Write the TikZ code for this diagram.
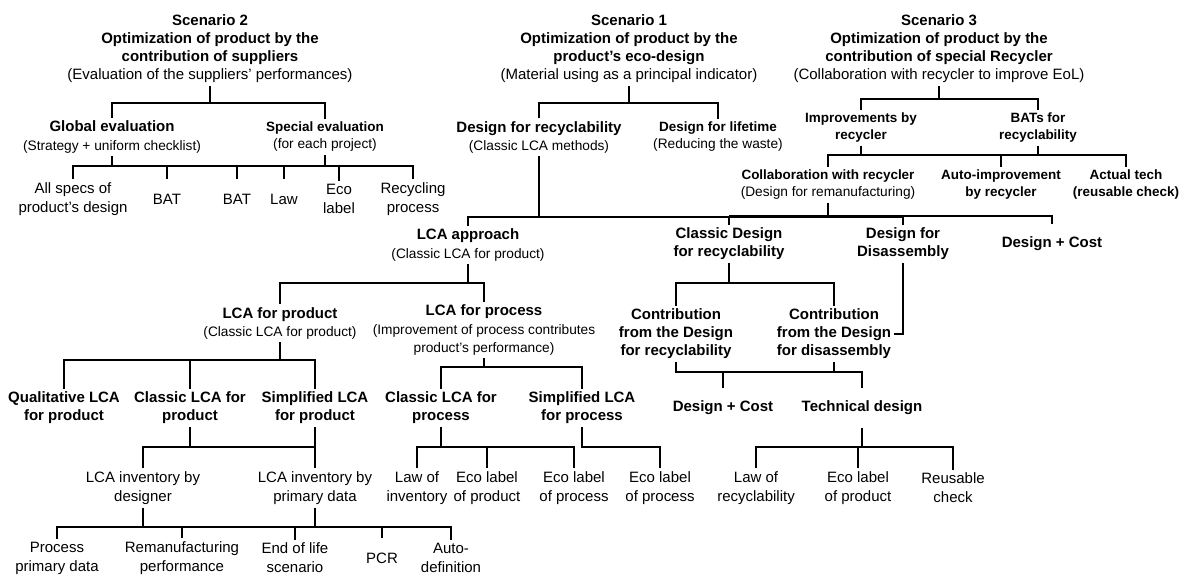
\documentclass[tikz,border=0pt]{standalone}
\usepackage{fontspec}
\setmainfont{Liberation Sans}
\usepackage{tikz}
\newcommand{\subline}[1]{{\mdseries\fontsize{11.7}{15.4}\selectfont #1}}
\tikzstyle{title} = [align=center, font=\bfseries\fontsize{12.8}{15.4}\selectfont, inner sep=2.5pt]
\tikzstyle{stitle} = [align=center, font=\bfseries\fontsize{11.5}{14.5}\selectfont, inner sep=2.5pt]
\tikzstyle{leaf} = [align=center, font=\fontsize{12.8}{16.2}\selectfont, inner sep=2.5pt]
\tikzstyle{oneline} = [minimum height=1.17cm]
\tikzstyle{link} = [line width=1.6pt, black]

\begin{document}
\begin{tikzpicture}[x=0.03cm, y=-0.03cm]
    \useasboundingbox (0,0) rectangle (1186,576);

    % scenarios
    \node[title] (sc2) at (210,49) {Scenario 2\\Optimization of product by the\\contribution of suppliers\\{\mdseries (Evaluation of the suppliers' performances)}};
    \node[title] (sc1) at (629,49) {Scenario 1\\Optimization of product by the\\product's eco-design\\{\mdseries (Material using as a principal indicator)}};
    \node[title] (sc3) at (939,49) {Scenario 3\\Optimization of product by the\\contribution of special Recycler\\{\mdseries (Collaboration with recycler to improve EoL)}};

    % scenario 2
    \node[title] (glob) at (112,137) {Global evaluation\\\subline{(Strategy + uniform checklist)}};
    \node[stitle] (spec) at (325,137) {Special evaluation\\\subline{(for each project)}};
    \node[leaf] (allspec) at (73,199) {All specs of\\product's design};
    \node[leaf, oneline] (bat1) at (167,199) {BAT};
    \node[leaf, oneline] (bat2) at (237,199) {BAT};
    \node[leaf, oneline] (law) at (284,199) {Law};
    \node[leaf] (eco) at (339,199) {Eco\\label};
    \node[leaf] (recproc) at (413,199) {Recycling\\process};

    % scenario 1
    \node[title] (dfr) at (539,137) {Design for recyclability\\\subline{(Classic LCA methods)}};
    \node[stitle] (dflife) at (718,137) {Design for lifetime\\\subline{(Reducing the waste)}};

    % scenario 3
    \node[stitle] (impr) at (861,128) {Improvements by\\recycler};
    \node[stitle] (bats) at (1038,128) {BATs for\\recyclability};
    \node[stitle] (collab) at (828,185) {Collaboration with recycler\\\subline{(Design for remanufacturing)}};
    \node[stitle] (autoimp) at (1001,185) {Auto-improvement\\by recycler};
    \node[stitle] (acttech) at (1126,185) {Actual tech\\(reusable check)};

    \node[title] (lca) at (468,245) {LCA approach\\\subline{(Classic LCA for product)}};
    \node[title] (cldfr) at (729,244) {Classic Design\\for recyclability};
    \node[title] (dfd) at (903,244) {Design for\\Disassembly};
    \node[title, oneline] (dcost1) at (1052,244) {Design + Cost};

    \node[title] (lcaprod) at (280,323) {LCA for product\\\subline{(Classic LCA for product)}};
    \node[title] (lcaproc) at (484,330) {LCA for process\\\subline{(Improvement of process contributes}\\\subline{product's performance)}};
    \node[title] (contrrec) at (676,334) {Contribution\\from the Design\\for recyclability};
    \node[title] (contrdis) at (834,334) {Contribution\\from the Design\\for disassembly};

    \node[title] (qual) at (64,408) {Qualitative LCA\\for product};
    \node[title] (clprod) at (190,408) {Classic LCA for\\product};
    \node[title] (simprod) at (315,408) {Simplified LCA\\for product};
    \node[title] (clproc) at (441,408) {Classic LCA for\\process};
    \node[title] (simproc) at (582,408) {Simplified LCA\\for process};
    \node[title, oneline] (dcost2) at (723,408) {Design + Cost};
    \node[title, oneline] (techd) at (862,408) {Technical design};

    \node[leaf] (invdes) at (143,488) {LCA inventory by\\designer};
    \node[leaf] (invprim) at (315,488) {LCA inventory by\\primary data};
    \node[leaf] (lawinv) at (417,488) {Law of\\inventory};
    \node[leaf] (ecoprod1) at (487,488) {Eco label\\of product};
    \node[leaf] (ecoproc1) at (574,488) {Eco label\\of process};
    \node[leaf] (ecoproc2) at (660,488) {Eco label\\of process};
    \node[leaf] (lawrec) at (756,488) {Law of\\recyclability};
    \node[leaf] (ecoprod2) at (858,488) {Eco label\\of product};
    \node[leaf] (reuse) at (953,488) {Reusable\\check};

    \node[leaf] (procdata) at (57,558) {Process\\primary data};
    \node[leaf] (reman) at (182,558) {Remanufacturing\\performance};
    \node[leaf] (eol) at (295,558) {End of life\\scenario};
    \node[leaf, oneline] (pcr) at (382,558) {PCR};
    \node[leaf] (autodef) at (451,558) {Auto-\\definition};

    % connectors
    \draw[link] (sc2.south) -- (sc2.south |- 0,103);
    \draw[link] (glob.north) -- (glob.north |- 0,103) -- (spec.north |- 0,103) -- (spec.north);
    \draw[link] (glob.south) -- (glob.south |- 0,166);
    \draw[link] (spec.south) -- (spec.south |- 0,166);
    \draw[link] (allspec.north) -- (allspec.north |- 0,166) -- (recproc.north |- 0,166) -- (recproc.north);
    \foreach \n in {bat1,bat2,law,eco}
        \draw[link] (\n.north) -- (\n.north |- 0,166);

    \draw[link] (sc1.south) -- (sc1.south |- 0,103);
    \draw[link] (dfr.north) -- (dfr.north |- 0,103) -- (dflife.north |- 0,103) -- (dflife.north);
    \draw[link] (dfr.south) -- (dfr.south |- 0,217);
    \draw[link] (lca.north) -- (lca.north |- 0,217) -- (dfd.north |- 0,217) -- (dfd.north);
    \draw[link] (cldfr.north) -- (cldfr.north |- 0,217);

    \draw[link] (sc3.south) -- (sc3.south |- 0,99);
    \draw[link] (impr.north) -- (impr.north |- 0,99) -- (bats.north |- 0,99) -- (bats.north);
    \draw[link] (impr.south) -- (impr.south |- 0,155);
    \draw[link] (bats.south) -- (bats.south |- 0,155);
    \draw[link] (collab.north) -- (collab.north |- 0,155) -- (acttech.north |- 0,155) -- (acttech.north);
    \draw[link] (autoimp.north) -- (autoimp.north |- 0,155);
    \draw[link] (collab.south) -- (collab.south |- 0,216);
    \draw[link] (cldfr.north |- 0,216) -- (dcost1.north |- 0,216) -- (dcost1.north);

    \draw[link] (lca.south) -- (lca.south |- 0,283);
    \draw[link] (lcaprod.north) -- (lcaprod.north |- 0,283) -- (lcaproc.north |- 0,283) -- (lcaproc.north);
    \draw[link] (cldfr.south) -- (cldfr.south |- 0,283);
    \draw[link] (contrrec.north) -- (contrrec.north |- 0,283) -- (contrdis.north |- 0,283) -- (contrdis.north);
    \draw[link] (dfd.south) |- (contrdis.east);

    \draw[link] (lcaprod.south) -- (lcaprod.south |- 0,360);
    \draw[link] (qual.north) -- (qual.north |- 0,360) -- (simprod.north |- 0,360) -- (simprod.north);
    \draw[link] (clprod.north) -- (clprod.north |- 0,360);
    \draw[link] (lcaproc.south) -- (lcaproc.south |- 0,367);
    \draw[link] (clproc.north) -- (clproc.north |- 0,367) -- (simproc.north |- 0,367) -- (simproc.north);

    \draw[link] (contrrec.south) -- (contrrec.south |- 0,372) -- (techd.north |- 0,372) -- (techd.north);
    \draw[link] (contrdis.south) -- (contrdis.south |- 0,372);
    \draw[link] (dcost2.north) -- (dcost2.north |- 0,372);

    \draw[link] (clprod.south) -- (clprod.south |- 0,447);
    \draw[link] (simprod.south) -- (invprim.north);
    \draw[link] (invdes.north) -- (invdes.north |- 0,447) -- (invprim.north |- 0,447);
    \draw[link] (clproc.south) -- (clproc.south |- 0,447);
    \draw[link] (lawinv.north) -- (lawinv.north |- 0,447) -- (ecoproc1.north |- 0,447) -- (ecoproc1.north);
    \draw[link] (ecoprod1.north) -- (ecoprod1.north |- 0,447);
    \draw[link] (simproc.south) |- (ecoproc2.north |- 0,447) -- (ecoproc2.north);
    \draw[link] (techd.south) -- (techd.south |- 0,447);
    \draw[link] (lawrec.north) -- (lawrec.north |- 0,447) -- (reuse.north |- 0,447) -- (reuse.north);
    \draw[link] (ecoprod2.north) -- (ecoprod2.north |- 0,447);

    \draw[link] (invdes.south) -- (invdes.south |- 0,527);
    \draw[link] (invprim.south) -- (invprim.south |- 0,527);
    \draw[link] (procdata.north) -- (procdata.north |- 0,527) -- (autodef.north |- 0,527) -- (autodef.north);
    \foreach \n in {reman,eol,pcr}
        \draw[link] (\n.north) -- (\n.north |- 0,527);
\end{tikzpicture}
\end{document}
